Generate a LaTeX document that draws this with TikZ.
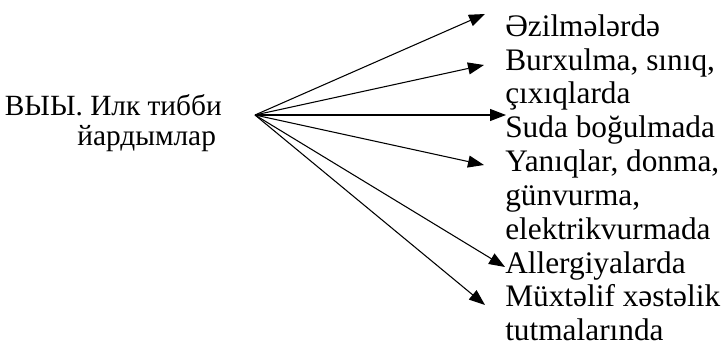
\documentclass[tikz,border=0pt]{standalone}
\usepackage{fontspec}
\setmainfont{Liberation Serif}
\usetikzlibrary{positioning, arrows.meta}
\tikzset{
  head/.style={align=center, inner xsep=24.75pt, inner ysep=0pt,
    font=\fontsize{22}{22.5}\selectfont},
  item/.style={align=left, inner sep=0pt, anchor=base west,
    font=\fontsize{23.5}{25.3}\selectfont},
  arr/.style={-{Triangle[length=12pt, width=9pt]}, line width=0.8pt}
}

\begin{document}
\begin{tikzpicture}[x=0.75pt, y=-0.75pt]
    \useasboundingbox (0,0) rectangle (726,346);

    \node[head, anchor=east] (hd) at (255,123) {ВЫЫ. Илк тибби\\\hspace*{50pt}йардымлар};
    \coordinate (fan) at ([yshift=6pt]hd.east);

    % items, placed by the baseline of their last line
    \node[item] (i1) at (505,37)  {Əzilmələrdə};
    \node[item] (i2) at (505,104) {Burxulma, sınıq,\\çıxıqlarda};
    \node[item] (i3) at (505,138) {Suda boğulmada};
    \node[item] (i4) at (505,239) {Yanıqlar, donma,\\günvurma,\\elektrikvurmada};
    \node[item] (i5) at (505,273) {Allergiyalarda};
    \node[item] (i6) at (505,340) {Müxtəlif xəstəlik\\tutmalarında};

    % arrow tips next to the items
    \coordinate (t1) at (485,14);
    \coordinate (t2) at (484,65);
    \coordinate (t3) at (506,115);
    \coordinate (t4) at (484,165);
    \coordinate (t5) at (505,267);
    \coordinate (t6) at (485,305);

    \foreach \t in {t1,t2,t3,t4,t5,t6}
      \draw[arr] (fan) -- (\t);
\end{tikzpicture}
\end{document}
